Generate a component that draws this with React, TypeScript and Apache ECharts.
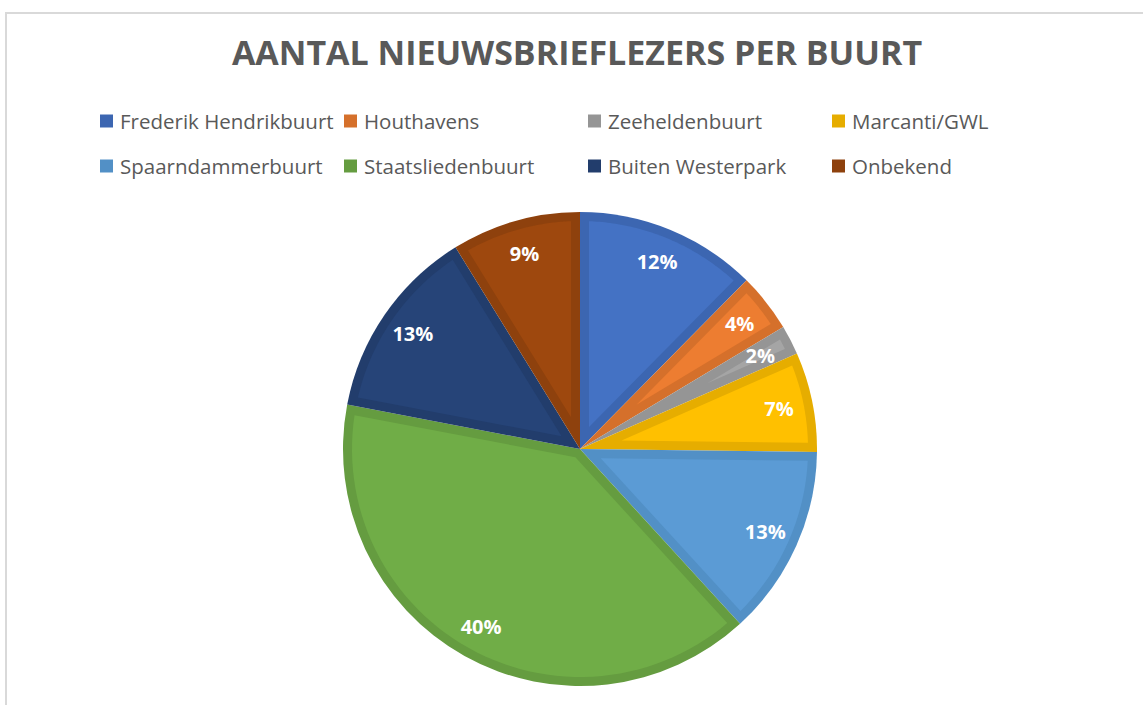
import React, { useEffect, useRef } from "react";
import * as echarts from "echarts";

const titleText = "AANTAL NIEUWSBRIEFLEZERS PER BUURT";
const categories = [
  "Frederik Hendrikbuurt",
  "Houthavens",
  "Zeeheldenbuurt",
  "Marcanti/GWL",
  "Spaarndammerbuurt",
  "Staatsliedenbuurt",
  "Buiten Westerpark",
  "Onbekend",
];
const values = [124, 40, 20, 68, 130, 398, 132, 88];
const fillColors = ["#4472C4", "#ED7D31", "#A5A5A5", "#FFC000", "#5B9BD5", "#70AD47", "#264478", "#9E480E"];
const edgeColors = ["#3C66B1", "#D5702B", "#959595", "#E6AD00", "#5290C6", "#659C40", "#223D6C", "#8E410D"];

const CX = 580;
const CY = 449;
const RADIUS = 237;
const INSET = 9;

export default function App() {
  const ref = useRef<HTMLDivElement>(null);
  useEffect(() => {
    document.body.style.margin = "0";
    const chart = echarts.init(ref.current!, undefined, { renderer: "svg" });
    const total = values.reduce((a, b) => a + b, 0);
    const cum: number[] = [0];
    values.forEach((v, i) => cum.push(cum[i] + v));

    const renderInset = (params: any, api: any) => {
      const i = params.dataIndex;
      const a1 = (cum[i] / total) * Math.PI * 2;
      const a2 = (cum[i + 1] / total) * Math.PI * 2;
      const theta = a2 - a1;
      const mid = (a1 + a2) / 2;
      const R = RADIUS - INSET;
      const apexR = INSET / Math.sin(Math.min(theta, Math.PI) / 2);
      const da = Math.asin(INSET / R);
      if (a2 - a1 - 2 * da <= 0 || apexR >= R) return { type: "group", children: [] };
      const pts: number[][] = [];
      if (theta < Math.PI) pts.push([CX + apexR * Math.sin(mid), CY - apexR * Math.cos(mid)]);
      const n = 60;
      for (let k = 0; k <= n; k++) {
        const phi = a1 + da + ((a2 - a1 - 2 * da) * k) / n;
        pts.push([CX + R * Math.sin(phi), CY - R * Math.cos(phi)]);
      }
      return { type: "polygon", shape: { points: pts }, style: { fill: fillColors[i], stroke: null } };
    };

    chart.setOption({
      animation: false,
      backgroundColor: "#ffffff",
      title: {
        text: titleText,
        left: 577,
        textAlign: "center",
        top: 35,
        padding: 0,
        textStyle: { fontFamily: "Open Sans", fontWeight: "bold", fontSize: 34, color: "#595959" },
      },
      legend: {
        left: 100,
        top: 100.5,
        width: 1000,
        padding: 0,
        itemWidth: 13,
        itemHeight: 13,
        itemGap: 4,
        icon: "rect",
        data: categories,
        itemStyle: { borderWidth: 0 },
        textStyle: {
          fontFamily: "Open Sans",
          fontSize: 20.5,
          color: "#595959",
          width: 220,
          overflow: "truncate",
          lineHeight: 41,
          padding: [0, 0, 0, 2],
        },
      },
      graphic: [
        {
          type: "rect",
          shape: { x: 6, y: 13, width: 1200, height: 760 },
          style: { fill: "none", stroke: "#D9D9D9", lineWidth: 2 },
          silent: true,
          z: -1,
        },
      ],
      series: [
        {
          type: "pie",
          center: [CX, CY],
          radius: [0, RADIUS],
          startAngle: 90,
          clockwise: true,
          data: categories.map((name, i) => ({
            name,
            value: values[i],
            itemStyle: { color: edgeColors[i] },
          })),
          label: { show: false },
          labelLine: { show: false },
          itemStyle: { borderWidth: 0 },
          emphasis: { disabled: true },
        },
        {
          type: "custom",
          coordinateSystem: "none",
          data: values.map((v) => [v]),
          renderItem: renderInset,
          z: 5,
        },
        {
          type: "pie",
          center: [CX, CY],
          radius: [163, RADIUS],
          startAngle: 90,
          clockwise: true,
          silent: true,
          legendHoverLink: false,
          data: categories.map((name, i) => ({ name, value: values[i] })),
          itemStyle: { color: "rgba(0,0,0,0)", borderWidth: 0 },
          label: {
            show: true,
            position: "inside",
            rotate: 0,
            formatter: (p: any) => Math.round((p.value / total) * 100) + "%",
            color: "#ffffff",
            fontFamily: "Open Sans",
            fontWeight: "bold",
            fontSize: 20,
          },
          labelLine: { show: false },
          emphasis: { disabled: true },
          z: 8,
        },
      ],
    });
    return () => chart.dispose();
  }, []);
  return <div ref={ref} style={{ width: 1143, height: 705 }} />;
}
